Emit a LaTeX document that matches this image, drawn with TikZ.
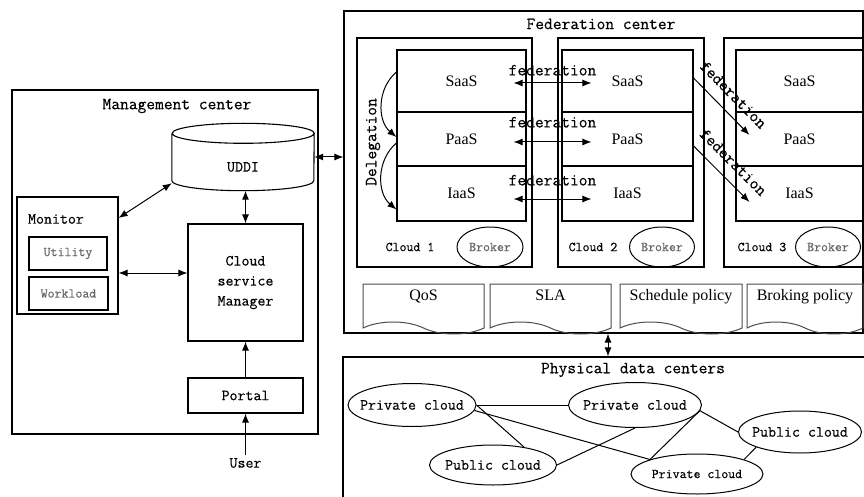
\documentclass[tikz,border=0pt]{standalone}
\usepackage{fontspec}
\setmonofont{Latin Modern Mono}[FakeBold=0.4]
\newfontfamily\docfont{Liberation Serif}
\usetikzlibrary{arrows.meta,shapes.geometric,shapes.symbols}

\begin{document}
\begin{tikzpicture}[x=1pt,y=-1pt,>={Latex[length=9pt,width=7pt]}]
\tikzset{
  box/.style={draw, line width=1.1pt, inner sep=0pt},
  mono/.style={font=\ttfamily\fontsize{#1}{20}\selectfont},
  mono/.default=15.5,
  layer/.style={box, minimum width=129pt, font=\docfont\fontsize{16}{16}\selectfont},
  broker/.style={draw, ellipse, line width=1pt, minimum width=66pt, minimum height=40pt,
    inner sep=0pt, text=black!60, mono=13.5},
  policy/.style={draw=black!70, line width=1pt, tape, tape bend top=none,
    tape bend bottom=out and in, tape bend height=12pt, minimum height=50pt,
    text depth=16pt, font=\docfont\fontsize{16}{16}\selectfont},
  dc/.style={draw, ellipse, line width=1pt, inner xsep=-10pt, inner ysep=0pt},
  conn/.style={line width=1pt}
}
\useasboundingbox (0,0) rectangle (864,497);
\clip (0,0) rectangle (864,497);

% management center
\node[box, minimum width=306pt, minimum height=344pt] (mgmt) at (165,262) {};
\node[mono=17] (mgmttitle) at (177,106) {Management center};
\node[inner sep=0pt, minimum width=142pt, minimum height=67pt] (uddi) at (243,157) {};
\draw[line width=1.1pt] ([yshift=-10pt]uddi.north west) -- ([yshift=10pt]uddi.south west)
  arc[start angle=180, end angle=360, x radius=71pt, y radius=10pt]
  -- ([yshift=-10pt]uddi.north east)
  arc[start angle=0, end angle=360, x radius=71pt, y radius=10pt];
\node[mono] (udditext) at (243,167) {UDDI};
\node[box, minimum width=101pt, minimum height=117pt] (monitor) at (67.5,255.5) {};
\node[mono] (monitortitle) at (56,219) {Monitor};
\node[box, minimum width=78pt, minimum height=33pt, mono=13.5, text=black!60] (utility) at (68,253.5) {Utility};
\node[box, minimum width=79pt, minimum height=33pt, mono=13.5, text=black!60] (workload) at (68.5,293.5) {Workload};
\node[box, minimum width=115pt, minimum height=117pt, align=center, mono] (manager) at (245.5,282.5) {Cloud\\service\\Manager};
\node[box, minimum width=115pt, minimum height=35pt, mono] (portal) at (245.5,395.5) {Portal};
\node[mono] (user) at (245.5,463) {User};

\draw[conn, <->] ([yshift=37.5pt]monitor.east) -- ([yshift=7.5pt]uddi.south west);
\draw[conn, <->] (uddi.south -| manager.north) -- (manager.north);
\draw[conn, <->] ([yshift=-17.5pt]monitor.east) -- ([yshift=9.5pt]manager.west);
\draw[conn, ->] (portal) -- (manager);
\draw[conn, ->] (user) -- (portal);

% federation center
\node[box, minimum width=519pt, minimum height=322pt] (fed) at (603.5,172) {};
\node[mono=17] (fedtitle) at (601,24) {Federation center};
\draw[conn, <->] (uddi.east) -- (uddi.east -| fed.west);

\node[box, minimum width=175pt, minimum height=229pt] (cloud1) at (444.5,152.5) {};
\node[layer, minimum height=62pt] (saas1) at (461.5,81) {SaaS};
\node[layer, minimum height=54pt] (paas1) at (461.5,139) {PaaS};
\node[layer, minimum height=55pt] (iaas1) at (461.5,193.5) {IaaS};
\node[mono=13.5] (cloudname1) at (410,247) {Cloud 1};
\node[broker] (broker1) at (490,247) {Broker};

\node[box, minimum width=146pt, minimum height=229pt] (cloud2) at (631,152.5) {};
\node[layer, minimum width=131pt, minimum height=62pt] (saas2) at (627.5,81) {SaaS};
\node[layer, minimum width=131pt, minimum height=54pt] (paas2) at (627.5,139) {PaaS};
\node[layer, minimum width=131pt, minimum height=55pt] (iaas2) at (627.5,193.5) {IaaS};
\node[mono=13.5] (cloudname2) at (593,247) {Cloud 2};
\node[broker, minimum width=65pt] (broker2) at (662,247) {Broker};

\node[box, minimum width=139pt, minimum height=229pt] (cloud3) at (793.5,152.5) {};
\node[layer, minimum width=127pt, minimum height=62pt] (saas3) at (799.5,81) {SaaS};
\node[layer, minimum width=127pt, minimum height=54pt] (paas3) at (799.5,139) {PaaS};
\node[layer, minimum width=127pt, minimum height=55pt] (iaas3) at (799.5,193.5) {IaaS};
\node[mono=13.5] (cloudname3) at (762,247) {Cloud 3};
\node[broker, minimum width=65pt] (broker3) at (828,247) {Broker};

% delegation inside cloud 1
\draw[conn, ->] ([yshift=9pt]saas1.west) to[bend right=50] ([yshift=2pt]paas1.west);
\draw[conn, ->] ([yshift=-4pt]paas1.west) to[bend right=50] ([yshift=-16pt]iaas1.west);
\node[mono=17, rotate=90] (delegation) at (373,142) {Delegation};

% federation between clouds
\draw[conn, <->] ([xshift=-13pt,yshift=-2pt]saas1.east) --
  node[above=7pt, inner sep=0pt, mono=17] (fedlabel1) {federation} ([xshift=30pt,yshift=-2pt]saas2.west);
\draw[conn, <->] ([xshift=-13pt,yshift=-3pt]paas1.east) --
  node[above=14pt, inner sep=0pt, mono=17] (fedlabel2) {federation} ([xshift=30pt,yshift=-3pt]paas2.west);
\draw[conn, <->] ([xshift=-13pt,yshift=-5.5pt]iaas1.east) --
  node[above=13pt, inner sep=0pt, mono=17] (fedlabel3) {federation} ([xshift=30pt,yshift=-5.5pt]iaas2.west);
\draw[conn, ->] ([yshift=3pt]saas2.east) --
  node[sloped, above=11pt, inner sep=0pt, mono=17] (fedlabel4) {federation} ([xshift=14pt,yshift=4pt]paas3.west);
\draw[conn, ->] ([yshift=-7pt]paas2.east) --
  node[sloped, above=11pt, inner sep=0pt, mono=17] (fedlabel5) {federation} ([xshift=14pt,yshift=-8.5pt]iaas3.west);

% policies
\node[policy, minimum width=121pt] (qos) at (423.5,303) {QoS};
\node[policy, minimum width=121pt] (sla) at (550.5,303) {SLA};
\node[policy, minimum width=122pt] (schedule) at (681,303) {Schedule policy};
\node[policy, minimum width=116pt] (broking) at (805,303) {Broking policy};

% physical data centers
\node[box, minimum width=530pt, minimum height=160pt] (phys) at (608,437) {};
\node[mono=17] (phystitle) at (633,370) {Physical data centers};
\draw[conn, <->] (fed.south -| phys.north) -- (phys.north);

\node[dc, minimum width=128pt, minimum height=43pt, mono] (priv1) at (412,405) {Private cloud};
\node[dc, minimum width=133pt, minimum height=45pt, mono] (priv2) at (635,405) {Private cloud};
\node[dc, minimum width=127pt, minimum height=40pt, mono] (pub1) at (493,465) {Public cloud};
\node[dc, minimum width=132pt, minimum height=40pt, mono=13.5] (priv3) at (697,474) {Private cloud};
\node[dc, minimum width=123pt, minimum height=42pt, mono] (pub2) at (800,432) {Public cloud};

\draw[conn] (priv1.east) -- (priv2.west);
\draw[conn] (priv1.east) -- (pub1.30);
\draw[conn] (priv1.-5) -- (priv3.north west);
\draw[conn] (pub1.east) -- (priv2.south);
\draw[conn] (priv2.-5) -- (priv3.north west);
\draw[conn] (priv2.-5) -- (pub2.west);
\draw[conn] (pub2.south west) -- (priv3.north east);
\end{tikzpicture}
\end{document}
